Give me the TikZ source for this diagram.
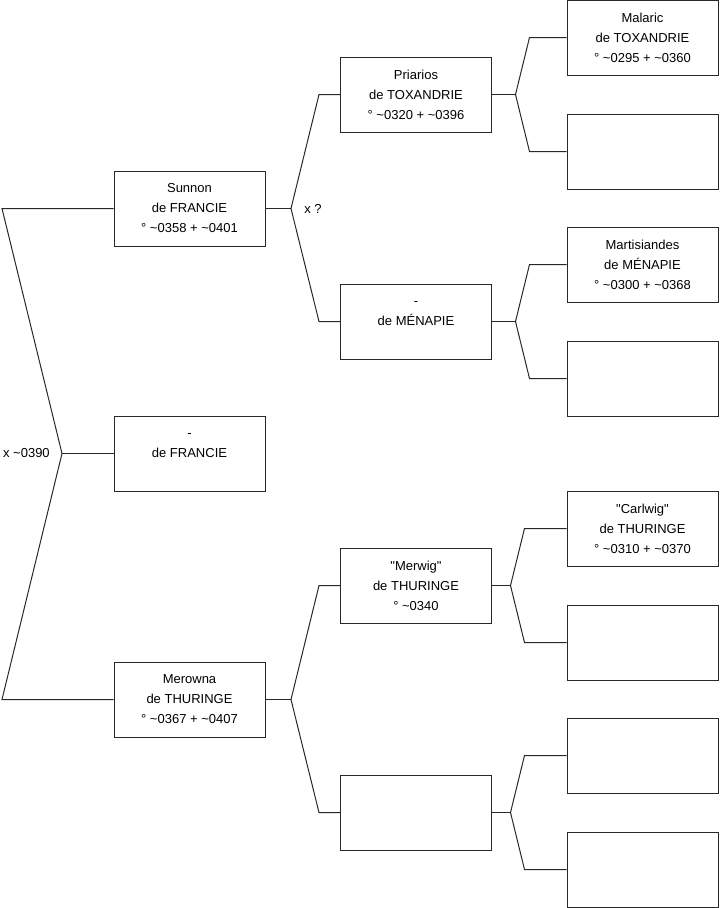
\documentclass[tikz,border=0pt]{standalone}
\usepackage{fontspec}
\setmainfont{Liberation Sans}[Ligatures=TeXOff]
\usetikzlibrary{positioning}
\definecolor{inkline}{RGB}{40,40,40}

\newcommand{\tl}{\textasciitilde}

\begin{document}
\begin{tikzpicture}[x=0.75pt, y=-0.75pt,
    font=\fontsize{9.75pt}{15pt}\selectfont,
    person/.style={draw=inkline, line width=0.75pt, minimum width=113.25pt,
      minimum height=56.25pt, inner sep=0pt, align=center},
    link/.style={inkline, line width=0.75pt}]
  \useasboundingbox (0,0) rectangle (719,908);

  % GENERATION 1
  \node[person] (sunnon)  at (189.5,208.5) {Sunnon\\de FRANCIE\\° \tl0358 + \tl0401};
  \node[person] (francie) at (189.5,453.5) {\vphantom{S}-\\de FRANCIE\\\vphantom{0}};
  \node[person] (merowna) at (189.5,699.5) {Merowna\\de THURINGE\\° \tl0367 + \tl0407};

  % GENERATION 2
  \node[person] (priarios) at (416,94.5)  {Priarios\\de TOXANDRIE\\° \tl0320 + \tl0396};
  \node[person] (menapie)  at (416,321.5) {\vphantom{S}-\\de MÉNAPIE\\\vphantom{0}};
  \node[person] (merwig)   at (416,585.5) {"Merwig"\\de THURINGE\\° \tl0340};
  \node[person] (gen2d)    at (416,812.5) {};

  % GENERATION 3
  \node[person] (malaric)  at (642.5,37.5)  {Malaric\\de TOXANDRIE\\° \tl0295 + \tl0360};
  \node[person] (gen3b)    at (642.5,151.5) {};
  \node[person] (martis)   at (642.5,264.5) {Martisiandes\\de MÉNAPIE\\° \tl0300 + \tl0368};
  \node[person] (gen3d)    at (642.5,378.5) {};
  \node[person] (carlwig)  at (642.5,528.5) {"Carlwig"\\de THURINGE\\° \tl0310 + \tl0370};
  \node[person] (gen3f)    at (642.5,642.5) {};
  \node[person] (gen3g)    at (642.5,755.5) {};
  \node[person] (gen3h)    at (642.5,869.5) {};

  % union of generation 1
  \coordinate (u0)  at (62,453.5);
  \coordinate (u0a) at (2,208.5);
  \coordinate (u0b) at (2,699.5);
  \draw[link] (sunnon.west) -- (u0a) -- (u0) -- (u0b) -- (merowna.west);
  \draw[link] (u0) -- (francie.west);
  \node[anchor=east, inner sep=0pt] (m0) at (50,453.5) {x \tl0390};

  % parents of Sunnon and Merowna
  \foreach \c/\p/\m in {sunnon/priarios/menapie, merowna/merwig/gen2d} {
    \draw[link] (\c.east) -- ++(25.5,0) coordinate (b-\c);
    \draw[link] (\p.west) -- ++(-21,0) -- (b-\c);
    \draw[link] (\m.west) -- ++(-21,0) -- (b-\c);
  }
  \node[anchor=west, inner sep=0pt] (m1) at (304,208.5) {x ?};

  % parents of generation 2
  \foreach \c/\d/\l/\p/\m in {priarios/23.5/37/malaric/gen3b, menapie/23.5/37/martis/gen3d,
      merwig/18.5/42/carlwig/gen3f, gen2d/18.5/42/gen3g/gen3h} {
    \draw[link] (\c.east) -- ++(\d,0) coordinate (b-\c);
    \draw[link] (\p.west) -- ++(-\l,0) -- (b-\c);
    \draw[link] (\m.west) -- ++(-\l,0) -- (b-\c);
  }
\end{tikzpicture}
\end{document}
